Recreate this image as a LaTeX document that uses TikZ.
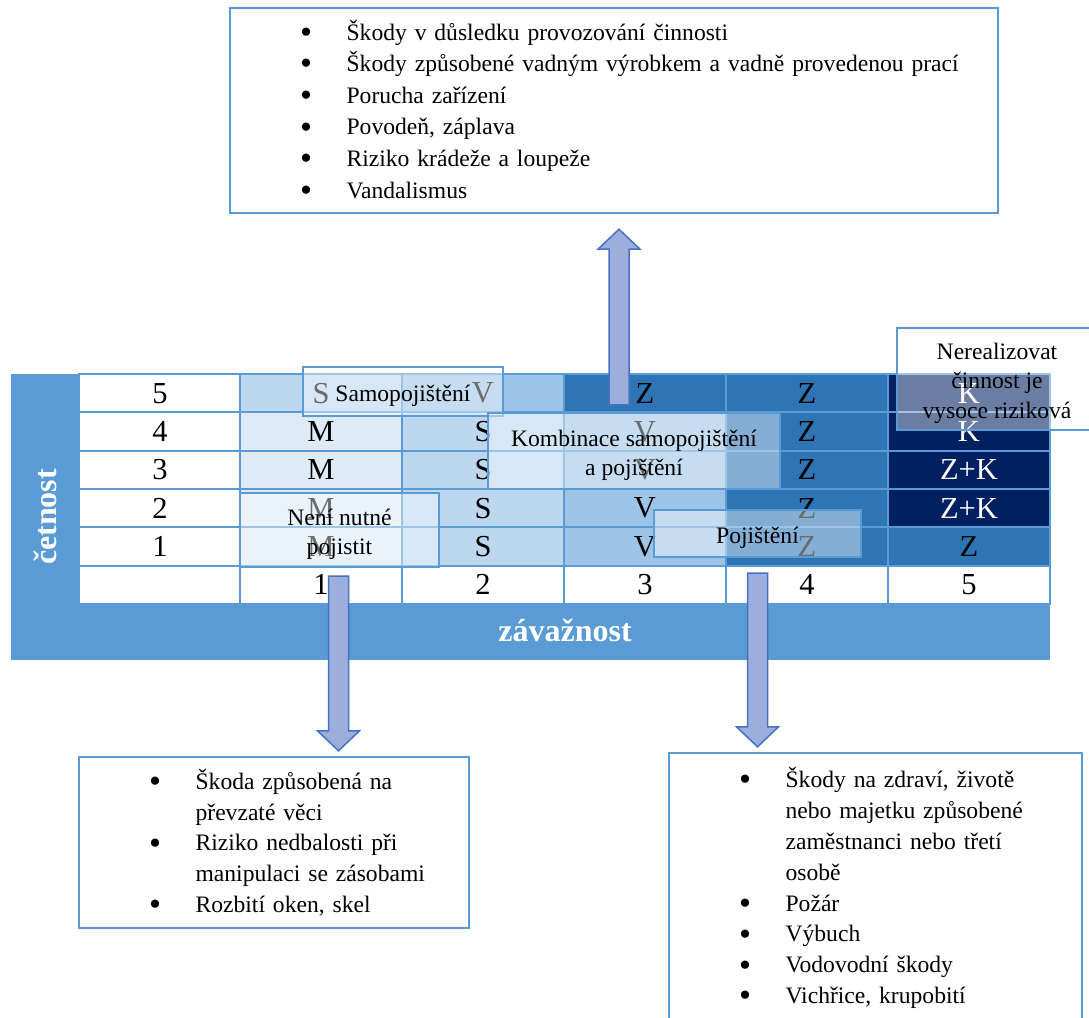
\documentclass[tikz,border=0pt]{standalone}
\usepackage{fontspec}
\usepackage{graphicx}
\setmainfont{Liberation Serif}
\usetikzlibrary{calc}
\definecolor{bandblue}{HTML}{5B9BD5}
\definecolor{cellM}{HTML}{DEEBF7}
\definecolor{cellS}{HTML}{BDD7EE}
\definecolor{cellV}{HTML}{9DC3E6}
\definecolor{cellZ}{HTML}{2E75B6}
\definecolor{cellK}{HTML}{002060}
\definecolor{arrfill}{HTML}{9EAEDC}
\definecolor{arredge}{HTML}{4472C4}

\newcommand{\matfont}{\fontsize{15.25}{18}\selectfont}
\newcommand{\notefont}{\fontsize{11.8}{14.6}\selectfont}
\newcommand{\blt}{\raisebox{-1.6pt}{\scalebox{1.45}{\textbullet}}}
\newcommand{\bitem}[1]{\hspace*{38pt}\makebox[0pt]{\blt}\hspace*{20.3pt}#1}
\newcommand{\bcont}[1]{\hspace*{58.3pt}#1}
\newcommand{\ovtext}[1]{\raisebox{-2pt}[\height][\depth]{\begin{tabular}{@{}c@{}}#1\end{tabular}}}
% block arrow from (#1) to tip (#2), vertical
\newcommand{\blockarrow}[2]{%
  \draw[blockarr] let \p1=(#1), \p2=(#2), \n1={sign(\y2-\y1)} in
    ({\x1-5pt},\y1) -- ({\x1-5pt},{\y2-(\n1)*10pt}) -- ({\x1-10.5pt},{\y2-(\n1)*10pt})
    -- (\x1,\y2) -- ({\x1+10.5pt},{\y2-(\n1)*10pt}) -- ({\x1+5pt},{\y2-(\n1)*10pt})
    -- ({\x1+5pt},\y1) -- cycle;}

\begin{document}
\begin{tikzpicture}[x=0.5pt,y=-0.5pt,
  cell/.style={draw=bandblue,line width=1pt,fill=white,minimum width=81pt,
    minimum height=19.17pt,inner sep=0pt,outer sep=0pt,font=\matfont},
  axislabel/.style={text=white,font=\fontsize{16}{19}\selectfont\bfseries},
  overbox/.style={draw=bandblue,line width=1.2pt,fill=white,fill opacity=0.42,
    text opacity=1,inner sep=0pt,font=\notefont},
  listbox/.style={draw=bandblue,line width=1.2pt,fill=white,align=left,
    inner xsep=0pt,inner ysep=0pt},
  blockarr/.style={fill=arrfill,draw=arredge,line width=0.75pt}]
\useasboundingbox (0,0) rectangle (1089,1018);
% ---------- risk matrix ----------
\fill[bandblue] (11,374) rectangle (1050,660);
\foreach \r/\row in {5/{S/cellS/black,V/cellV/black,Z/cellZ/black,Z/cellZ/black,K/cellK/white},
                     4/{M/cellM/black,S/cellS/black,V/cellV/black,Z/cellZ/black,K/cellK/white},
                     3/{M/cellM/black,S/cellS/black,V/cellV/black,Z/cellZ/black,Z+K/cellK/white},
                     2/{M/cellM/black,S/cellS/black,V/cellV/black,Z/cellZ/black,Z+K/cellK/white},
                     1/{M/cellM/black,S/cellS/black,V/cellV/black,Z/cellZ/black,Z/cellZ/black}} {
  \pgfmathsetmacro{\cy}{374+(5.5-\r)*38.33}
  \node[cell] (freq-\r) at (160,\cy) {\r};
  \foreach \t/\col/\tc [count=\c] in \row
    \node[cell,fill=\col,text=\tc] (cell-\r-\c) at ({159+162*\c},\cy) {\t};
}
\node[cell] (corner) at (160,584.8) {};
\foreach \c in {1,...,5}
  \node[cell] (sev-\c) at ({159+162*\c},584.8) {\c};
\node[axislabel,rotate=90] (freqlabel) at (45.5,517) {četnost};
\node[axislabel] (sevlabel) at (565,630) {závažnost};
% ---------- strategy boxes ----------
\node[overbox,minimum width=100pt,minimum height=24.5pt] (samo) at (403,391.5) {\ovtext{Samopojištění}};
\node[overbox,minimum width=146pt,minimum height=38pt] (komb) at (634,451) {\ovtext{Kombinace samopojištění\\a pojištění}};
\node[overbox,minimum width=99.5pt,minimum height=37pt] (nenutne) at (339.5,530) {\ovtext{Není nutné\\pojistit}};
\node[overbox,minimum width=103.5pt,minimum height=23.5pt] (poj) at (757.5,533.5) {\ovtext{Pojištění}};
\node[overbox,minimum width=100pt,minimum height=51pt] (nereal) at (997,379) {\ovtext{Nerealizovat\\činnost je\\vysoce riziková}};
% ---------- lists of risks ----------
\node[listbox,text width=384pt,minimum height=102.5pt,font=\fontsize{11.8}{15.8}\selectfont] (listkomb) at (614,110.5) {%
  \bitem{Škody v důsledku provozování činnosti}\\
  \bitem{Škody způsobené vadným výrobkem a vadně provedenou prací}\\
  \bitem{Porucha zařízení}\\
  \bitem{Povodeň, záplava}\\
  \bitem{Riziko krádeže a loupeže}\\
  \bitem{Vandalismus}};
\node[listbox,text width=195pt,minimum height=85.5pt,font=\fontsize{11.8}{15.3}\selectfont] (listsamo) at (274,842.5) {%
  \bitem{Škoda způsobená na}\\
  \bcont{převzaté věci}\\
  \bitem{Riziko nedbalosti při}\\
  \bcont{manipulaci se zásobami}\\
  \bitem{Rozbití oken, skel}};
\node[listbox,text width=206.5pt,minimum height=135pt,font=\fontsize{11.8}{15.45}\selectfont] (listpoj) at (875.5,888) {%
  \bitem{Škody na zdraví, životě}\\
  \bcont{nebo majetku způsobené}\\
  \bcont{zaměstnanci nebo třetí}\\
  \bcont{osobě}\\
  \bitem{Požár}\\
  \bitem{Výbuch}\\
  \bitem{Vodovodní škody}\\
  \bitem{Vichřice, krupobití}};
% ---------- arrows ----------
\coordinate (upfoot) at ($(komb.north)+(-15,-7)$);
\coordinate (uptip) at ($(listkomb.south)+(5,15)$);
\coordinate (lfoot) at ($(nenutne.south)+(-1,8)$);
\coordinate (ltip) at ($(listsamo.north)+(64.5,-5)$);
\coordinate (rfoot) at ($(poj.south)+(0,15)$);
\coordinate (rtip) at ($(listpoj.north)+(-118,-5)$);
\blockarrow{upfoot}{uptip}
\blockarrow{lfoot}{ltip}
\blockarrow{rfoot}{rtip}
\end{tikzpicture}
\end{document}
